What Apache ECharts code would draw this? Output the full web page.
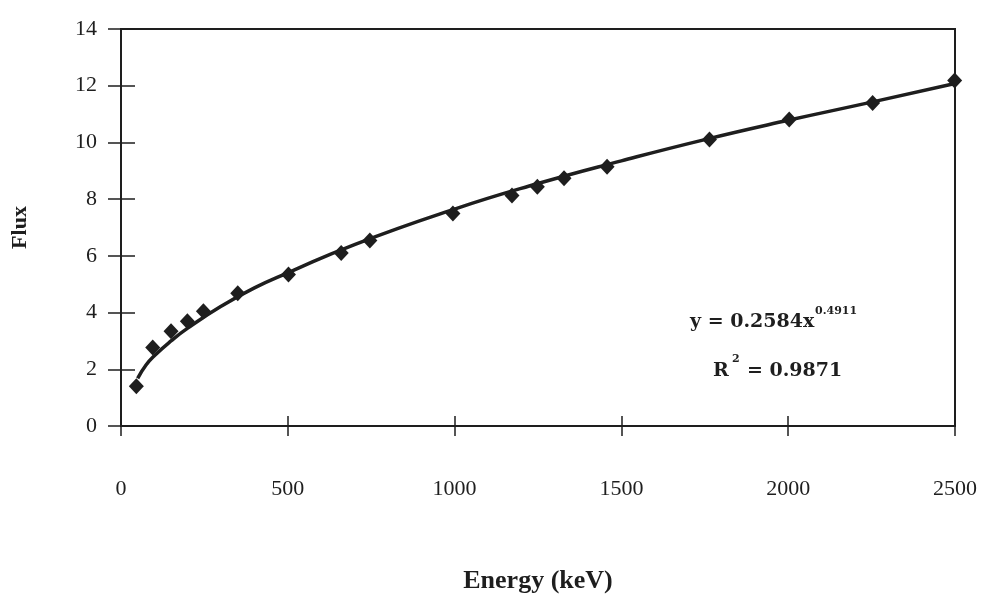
<!DOCTYPE html>
<html>
<head>
<meta charset="utf-8">
<script src="https://cdn.jsdelivr.net/npm/echarts@6/dist/echarts.min.js"></script>
<style>
html, body { margin: 0; padding: 0; background: #fff; }
#chart { width: 981px; height: 599px; }
</style>
</head>
<body>
<div id="chart"></div>
<script>
// measured points (keV, flux)
var energy = [46, 95, 150, 199, 247, 350, 502, 660, 746, 995, 1172, 1248, 1328, 1457, 1764, 2003, 2253, 2499];
var flux = [1.40, 2.77, 3.34, 3.69, 4.05, 4.68, 5.34, 6.10, 6.54, 7.49, 8.13, 8.44, 8.74, 9.14, 10.10, 10.81, 11.39, 12.18];

// power trend line
var fitEnergy = [50, 75, 100, 150, 200, 300, 400, 500, 700, 1000, 1250, 1500, 1750, 2000, 2250, 2500];
var fitFlux = [1.68, 2.15, 2.48, 3.00, 3.45, 4.22, 4.87, 5.40, 6.40, 7.65, 8.55, 9.35, 10.10, 10.78, 11.42, 12.08];

var xTicks = [0, 500, 1000, 1500, 2000, 2500];
var yTicks = [0, 2, 4, 6, 8, 10, 12, 14];

var ink = '#1e1e1e';
var serif = 'Liberation Serif';

var pts = [];
for (var i = 0; i < energy.length; i++) pts.push([energy[i], flux[i]]);
var fit = [];
for (var j = 0; j < fitEnergy.length; j++) fit.push([fitEnergy[j], fitFlux[j]]);

var myChart = echarts.init(document.getElementById('chart'));
var option = {
    backgroundColor: '#fff',
    animation: false,
    grid: {
        left: 121, right: 26, top: 29, bottom: 169,
        show: true, borderColor: ink, borderWidth: 2
    },
    xAxis: [{
        type: 'value',
        min: xTicks[0], max: xTicks[xTicks.length - 1], interval: 500,
        axisLine: { show: true, lineStyle: { color: ink, width: 2 } },
        axisTick: { show: true, length: 10, lineStyle: { color: ink, width: 1.5 } },
        axisLabel: { margin: 52, fontFamily: serif, fontSize: 22, color: ink,
            formatter: function (v) { return String(v); } },
        splitLine: { show: false },
        name: 'Energy (keV)',
        nameLocation: 'middle',
        nameGap: 142,
        nameTextStyle: { fontFamily: serif, fontWeight: 'bold', fontSize: 26, color: ink }
    }, {
        type: 'value', position: 'bottom',
        min: 0, max: 2500, interval: 500,
        axisLine: { show: false },
        axisTick: { show: true, inside: true, length: 10, lineStyle: { color: ink, width: 1.5 } },
        axisLabel: { show: false },
        splitLine: { show: false }
    }],
    yAxis: [{
        type: 'value',
        min: yTicks[0], max: yTicks[yTicks.length - 1], interval: 2,
        axisLine: { show: true, lineStyle: { color: ink, width: 2 } },
        axisTick: { show: true, length: 13, lineStyle: { color: ink, width: 1.5 } },
        axisLabel: { margin: 24, fontFamily: serif, fontSize: 22, color: ink },
        splitLine: { show: false },
        name: 'Flux',
        nameLocation: 'middle',
        nameGap: 90,
        nameTextStyle: { fontFamily: serif, fontWeight: 'bold', fontSize: 22, color: ink }
    }, {
        type: 'value', position: 'left',
        min: 0, max: 14, interval: 2,
        axisLine: { show: false },
        axisTick: { show: true, inside: true, length: 14, lineStyle: { color: ink, width: 1.5 } },
        axisLabel: { show: false },
        splitLine: { show: false }
    }],
    graphic: [
        { type: 'text', left: 690, top: 313, style: { text: 'y = 0.2584x', fontFamily: 'DejaVu Serif', fontWeight: 'bold', fontSize: 19, fill: ink } },
        { type: 'text', left: 815, top: 306, style: { text: '0.4911', fontFamily: 'DejaVu Serif', fontWeight: 'bold', fontSize: 11, fill: ink } },
        { type: 'text', left: 713, top: 362, style: { text: 'R', fontFamily: 'DejaVu Serif', fontWeight: 'bold', fontSize: 19, fill: ink } },
        { type: 'text', left: 732, top: 354, style: { text: '2', fontFamily: 'DejaVu Serif', fontWeight: 'bold', fontSize: 11, fill: ink } },
        { type: 'text', left: 747, top: 362, style: { text: '= 0.9871', fontFamily: 'DejaVu Serif', fontWeight: 'bold', fontSize: 19, fill: ink } }
    ],
    series: [{
        name: 'Power fit',
        type: 'line',
        data: fit,
        smooth: true,
        showSymbol: false,
        lineStyle: { color: ink, width: 3.5 },
        z: 2
    }, {
        name: 'Flux',
        type: 'scatter',
        data: pts,
        symbol: 'diamond',
        symbolSize: [15, 16],
        itemStyle: { color: ink, opacity: 1 },
        z: 3
    }]
};
myChart.setOption(option);
</script>
</body>
</html>
